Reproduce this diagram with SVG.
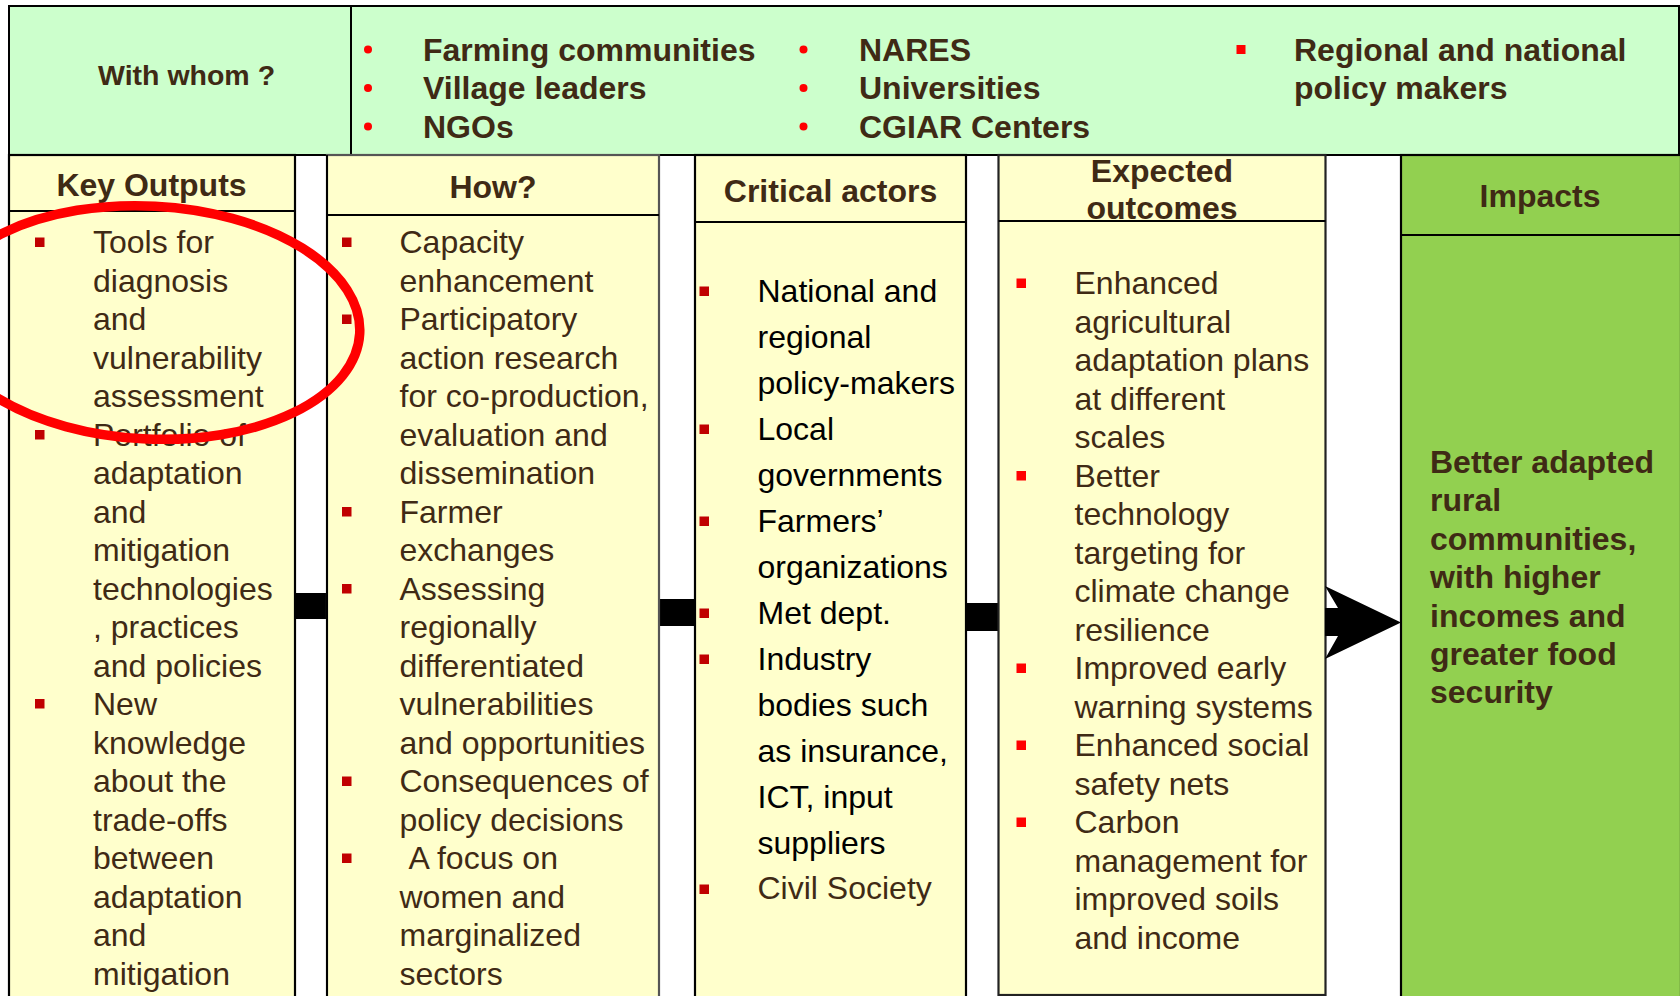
<svg xmlns="http://www.w3.org/2000/svg" width="1680" height="996" viewBox="0 0 1680 996">
  <defs>
    <style>
      .band { fill: #CCFFCC; stroke: #000; stroke-width: 2; }
      .col { fill: #FFFFCC; stroke: #000; stroke-width: 2.2; }
      .impact { fill: #92D050; stroke: #000; stroke-width: 2.2; }
      .rule { stroke: #000; stroke-width: 2; }
      .head { font-family: "Liberation Sans", Arial, sans-serif; font-weight: bold; font-size: 32px; fill: #3F2A15; text-anchor: middle; }
      .label { font-family: "Liberation Sans", Arial, sans-serif; font-weight: bold; font-size: 28.5px; fill: #3F2A15; }
      .who { font-family: "Liberation Sans", Arial, sans-serif; font-weight: bold; font-size: 32px; fill: #3F2A15; }
      .body { font-family: "Liberation Sans", Arial, sans-serif; font-size: 32px; fill: #3F2A15; }
      .dark { fill: #000; }
      .bold { font-weight: bold; }
      .dot { fill: #FF0000; }
      .sq { fill: #C00000; }
      .sq2 { fill: #FF0000; }
      .bar { fill: #000; }
    </style>
  </defs>

  <rect width="1680" height="996" fill="#FFFFFF"/>

  <!-- partner band across the top -->
  <g id="with-whom">
    <rect class="band" x="9" y="6" width="1670" height="149"/>
    <line class="rule" x1="351" y1="6" x2="351" y2="155"/>
    <text class="label" x="98" y="85">With whom ?</text>
    <circle class="dot" cx="368" cy="49.5" r="4"/>
    <circle class="dot" cx="368" cy="88" r="4"/>
    <circle class="dot" cx="368" cy="126.5" r="4"/>
    <text class="who" x="423" y="61">Farming communities<tspan x="423" dy="38.4">Village leaders</tspan><tspan x="423" dy="38.4">NGOs</tspan></text>
    <circle class="dot" cx="803.5" cy="49.5" r="4"/>
    <circle class="dot" cx="803.5" cy="88" r="4"/>
    <circle class="dot" cx="803.5" cy="126.5" r="4"/>
    <text class="who" x="859" y="61">NARES<tspan x="859" dy="38.4">Universities</tspan><tspan x="859" dy="38.4">CGIAR Centers</tspan></text>
    <rect class="sq2" x="1236.5" y="45" width="9" height="9"/>
    <text class="who" x="1294" y="61">Regional and national<tspan x="1294" dy="38.4">policy makers</tspan></text>
  </g>

  <!-- connectors between the columns -->
  <g id="connectors">
    <rect class="bar" x="294" y="593" width="34" height="26"/>
    <rect class="bar" x="658" y="599" width="38" height="27"/>
    <rect class="bar" x="965" y="603" width="34" height="28"/>
  </g>

  <g id="key-outputs">
    <rect class="col" x="9" y="155" width="286" height="860"/>
    <line class="rule" x1="9" y1="211" x2="295" y2="211"/>
    <text class="head" x="151.5" y="196">Key Outputs</text>
    <rect class="sq" x="35" y="237.5" width="9.5" height="9.5"/>
    <rect class="sq" x="35" y="430" width="9.5" height="9.5"/>
    <rect class="sq" x="35" y="699" width="9.5" height="9.5"/>
    <text class="body" x="93" y="253">Tools for<tspan x="93" dy="38.5">diagnosis</tspan><tspan x="93" dy="38.5">and</tspan><tspan x="93" dy="38.5">vulnerability</tspan><tspan x="93" dy="38.5">assessment</tspan><tspan x="93" dy="38.5">Portfolio of</tspan><tspan x="93" dy="38.5">adaptation</tspan><tspan x="93" dy="38.5">and</tspan><tspan x="93" dy="38.5">mitigation</tspan><tspan x="93" dy="38.5">technologies</tspan><tspan x="93" dy="38.5">, practices</tspan><tspan x="93" dy="38.5">and policies</tspan><tspan x="93" dy="38.5">New</tspan><tspan x="93" dy="38.5">knowledge</tspan><tspan x="93" dy="38.5">about the</tspan><tspan x="93" dy="38.5">trade-offs</tspan><tspan x="93" dy="38.5">between</tspan><tspan x="93" dy="38.5">adaptation</tspan><tspan x="93" dy="38.5">and</tspan><tspan x="93" dy="38.5">mitigation</tspan></text>
  </g>

  <g id="how">
    <rect class="col" x="327" y="155" width="332" height="860" style="stroke:#555"/>
    <line class="rule" x1="327" y1="215" x2="659" y2="215"/>
    <line class="rule" x1="327" y1="155" x2="327" y2="996"/>
    <text class="head" x="493" y="198">How?</text>
    <rect class="sq" x="342" y="237.5" width="9.5" height="9.5"/>
    <rect class="sq" x="342" y="314.5" width="9.5" height="9.5"/>
    <rect class="sq" x="342" y="507" width="9.5" height="9.5"/>
    <rect class="sq" x="342" y="584" width="9.5" height="9.5"/>
    <rect class="sq" x="342" y="776.5" width="9.5" height="9.5"/>
    <rect class="sq" x="342" y="853.5" width="9.5" height="9.5"/>
    <text class="body" x="399.5" y="253">Capacity<tspan x="399.5" dy="38.5">enhancement</tspan><tspan x="399.5" dy="38.5">Participatory</tspan><tspan x="399.5" dy="38.5">action research</tspan><tspan x="399.5" dy="38.5">for co-production,</tspan><tspan x="399.5" dy="38.5">evaluation and</tspan><tspan x="399.5" dy="38.5">dissemination</tspan><tspan x="399.5" dy="38.5">Farmer</tspan><tspan x="399.5" dy="38.5">exchanges</tspan><tspan x="399.5" dy="38.5">Assessing</tspan><tspan x="399.5" dy="38.5">regionally</tspan><tspan x="399.5" dy="38.5">differentiated</tspan><tspan x="399.5" dy="38.5">vulnerabilities</tspan><tspan x="399.5" dy="38.5">and opportunities</tspan><tspan x="399.5" dy="38.5">Consequences of</tspan><tspan x="399.5" dy="38.5">policy decisions</tspan><tspan x="408.5" dy="38.5">A focus on</tspan><tspan x="399.5" dy="38.5">women and</tspan><tspan x="399.5" dy="38.5">marginalized</tspan><tspan x="399.5" dy="38.5">sectors</tspan></text>
  </g>

  <g id="critical-actors">
    <rect class="col" x="695" y="155" width="271" height="860"/>
    <line class="rule" x1="695" y1="222" x2="966" y2="222"/>
    <text class="head" x="830.5" y="202">Critical actors</text>
    <rect class="sq" x="699.5" y="286.5" width="9.5" height="9.5"/>
    <rect class="sq" x="699.5" y="424.5" width="9.5" height="9.5"/>
    <rect class="sq" x="699.5" y="516.5" width="9.5" height="9.5"/>
    <rect class="sq" x="699.5" y="608.5" width="9.5" height="9.5"/>
    <rect class="sq" x="699.5" y="654.5" width="9.5" height="9.5"/>
    <rect class="sq" x="699.5" y="884.5" width="9.5" height="9.5"/>
    <text class="body dark" x="757.5" y="302">National and<tspan x="757.5" dy="46">regional</tspan><tspan x="757.5" dy="46">policy-makers</tspan><tspan x="757.5" dy="46">Local</tspan><tspan x="757.5" dy="46">governments</tspan><tspan x="757.5" dy="46">Farmers’</tspan><tspan x="757.5" dy="46">organizations</tspan><tspan x="757.5" dy="46">Met dept.</tspan><tspan x="757.5" dy="46">Industry</tspan><tspan x="757.5" dy="46">bodies such</tspan><tspan x="757.5" dy="46">as insurance,</tspan><tspan x="757.5" dy="46">ICT, input</tspan><tspan x="757.5" dy="46">suppliers</tspan></text>
    <text class="body" x="757.5" y="899">Civil Society</text>
  </g>

  <g id="expected-outcomes">
    <rect class="col" x="998.5" y="155" width="327" height="840" style="stroke:#222"/>
    <line class="rule" x1="998.5" y1="221" x2="1325.5" y2="221"/>
    <text class="head" x="1162" y="181.5">Expected<tspan x="1162" dy="37">outcomes</tspan></text>
    <rect class="sq2" x="1016.5" y="278.5" width="9.5" height="9.5"/>
    <rect class="sq2" x="1016.5" y="471" width="9.5" height="9.5"/>
    <rect class="sq2" x="1016.5" y="663.5" width="9.5" height="9.5"/>
    <rect class="sq2" x="1016.5" y="740.5" width="9.5" height="9.5"/>
    <rect class="sq2" x="1016.5" y="817.5" width="9.5" height="9.5"/>
    <text class="body" x="1074.5" y="294">Enhanced<tspan x="1074.5" dy="38.5">agricultural</tspan><tspan x="1074.5" dy="38.5">adaptation plans</tspan><tspan x="1074.5" dy="38.5">at different</tspan><tspan x="1074.5" dy="38.5">scales</tspan><tspan x="1074.5" dy="38.5">Better</tspan><tspan x="1074.5" dy="38.5">technology</tspan><tspan x="1074.5" dy="38.5">targeting for</tspan><tspan x="1074.5" dy="38.5">climate change</tspan><tspan x="1074.5" dy="38.5">resilience</tspan><tspan x="1074.5" dy="38.5">Improved early</tspan><tspan x="1074.5" dy="38.5">warning systems</tspan><tspan x="1074.5" dy="38.5">Enhanced social</tspan><tspan x="1074.5" dy="38.5">safety nets</tspan><tspan x="1074.5" dy="38.5">Carbon</tspan><tspan x="1074.5" dy="38.5">management for</tspan><tspan x="1074.5" dy="38.5">improved soils</tspan><tspan x="1074.5" dy="38.5">and income</tspan></text>
  </g>

  <g id="impacts">
    <rect class="impact" x="1401" y="155" width="280" height="860"/>
    <line class="rule" x1="1401" y1="235" x2="1680" y2="235"/>
    <text class="head" x="1540" y="207">Impacts</text>
    <text class="body bold" x="1430" y="473">Better adapted<tspan x="1430" dy="38.4">rural</tspan><tspan x="1430" dy="38.4">communities,</tspan><tspan x="1430" dy="38.4">with higher</tspan><tspan x="1430" dy="38.4">incomes and</tspan><tspan x="1430" dy="38.4">greater food</tspan><tspan x="1430" dy="38.4">security</tspan></text>
  </g>

  <!-- arrow into the impacts column -->
  <g id="impact-arrow">
    <polygon class="bar" points="1325,608 1338,608 1325,586 1401,622.5 1325,659 1338,636 1325,636"/>
  </g>

  <!-- emphasis ring around the first key output -->
  <g id="highlight">
    <ellipse cx="149" cy="322.5" rx="211" ry="116.5" fill="none" stroke="#FF0000" stroke-width="9.5" transform="rotate(3 149 322.5)"/>
  </g>
</svg>
